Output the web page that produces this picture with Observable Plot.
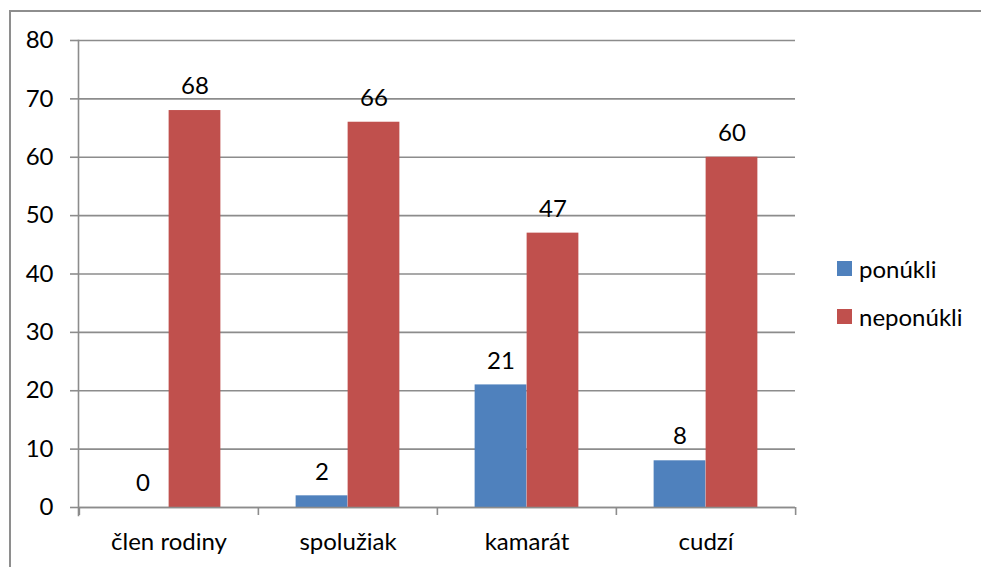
<!DOCTYPE html>
<html>
<head>
<meta charset="utf-8">
<script src="https://cdn.jsdelivr.net/npm/d3@7"></script>
<script src="https://cdn.jsdelivr.net/npm/@observablehq/plot@0.6"></script>
<style>
  html, body { margin: 0; padding: 0; background: #fff; }
  #wrap { position: relative; width: 981px; height: 567px; overflow: hidden; font-family: Lato, "Open Sans", sans-serif; }
  #border { position: absolute; left: 9px; top: 10px; width: 1000px; height: 600px; border-top: 2px solid #8e8e8e; border-left: 2px solid #8e8e8e; box-sizing: border-box; }
  #chart { position: absolute; left: 0; top: 0; }
  .legend { position: absolute; left: 837px; font-size: 24px; color: #000; display: flex; align-items: center; gap: 7px; }
  .sw { width: 15px; height: 15px; display: inline-block; }
</style>
</head>
<body>
<div id="wrap">
  <div id="border"></div>
  <div id="chart"></div>
  <div id="legend"></div>
</div>
<script>
const categories = ["člen rodiny", "spolužiak", "kamarát", "cudzí"];
const seriesNames = ["ponúkli", "neponúkli"];
const ponukli = [0, 2, 21, 8];
const neponukli = [68, 66, 47, 60];
const yTicks = [0, 10, 20, 30, 40, 50, 60, 70, 80];
const colors = ["#4F81BD", "#C0504D"];

const W = 981, H = 567;
const mL = 78, mR = 186, mT = 40, mB = 60;
const bw = (W - mL - mR) / categories.length;
const barW = 52;
const grid = "#8c8c8c";
const fs = 24;

const blueData = categories.map((c, i) => ({category: c, value: ponukli[i]}));
const redData = categories.map((c, i) => ({category: c, value: neponukli[i]}));
const edges = categories.map(c => ({category: c}));

const chart = Plot.plot({
  width: W, height: H,
  marginLeft: mL, marginRight: mR, marginTop: mT, marginBottom: mB,
  style: {fontFamily: "Lato, 'Open Sans', sans-serif", fontSize: fs + "px", color: "#000", background: "transparent"},
  x: {domain: categories, padding: 0, label: null},
  y: {domain: [0, 80], label: null},
  marks: [
    Plot.ruleY(yTicks, {stroke: grid, strokeWidth: 1.6}),
    Plot.barY(blueData, {x: "category", y: "value", fill: colors[0], insetLeft: bw / 2 - barW, insetRight: bw / 2}),
    Plot.barY(redData, {x: "category", y: "value", fill: colors[1], insetLeft: bw / 2, insetRight: bw / 2 - barW}),
    Plot.ruleY([0], {stroke: grid, strokeWidth: 1.6}),
    Plot.frame({anchor: "left", stroke: grid, strokeWidth: 1.6, insetBottom: -8}),
    Plot.ruleX(edges, {x: "category", y1: 0, y2: 0, dx: -bw / 2, insetBottom: -8, stroke: grid, strokeWidth: 1.6}),
    Plot.ruleX(edges.slice(-1), {x: "category", y1: 0, y2: 0, dx: bw / 2, insetBottom: -8, stroke: grid, strokeWidth: 1.6}),
    Plot.text(blueData, {x: "category", y: "value", text: d => String(d.value), dx: -barW / 2, dy: -24, fill: "#000", fontSize: fs}),
    Plot.text(redData, {x: "category", y: "value", text: d => String(d.value), dx: barW / 2, dy: -24, fill: "#000", fontSize: fs}),
    Plot.axisY({ticks: yTicks, tickSize: 8, tickPadding: 17, stroke: grid, strokeWidth: 1.6, fontSize: fs, label: null, tickFormat: d => String(d), strokeOpacity: 1}),
    Plot.axisX({tickSize: 0, tickPadding: 25, fontSize: fs, label: null})
  ]
});
document.getElementById("chart").appendChild(chart);

const legend = document.getElementById("legend");
seriesNames.forEach((name, i) => {
  const item = document.createElement("div");
  item.className = "legend";
  item.style.top = (268 + i * 48 - 15) + "px";
  item.style.height = "30px";
  const sw = document.createElement("span");
  sw.className = "sw";
  sw.style.background = colors[i];
  const t = document.createElement("span");
  t.textContent = name;
  item.appendChild(sw);
  item.appendChild(t);
  legend.appendChild(item);
});
</script>
</body>
</html>
